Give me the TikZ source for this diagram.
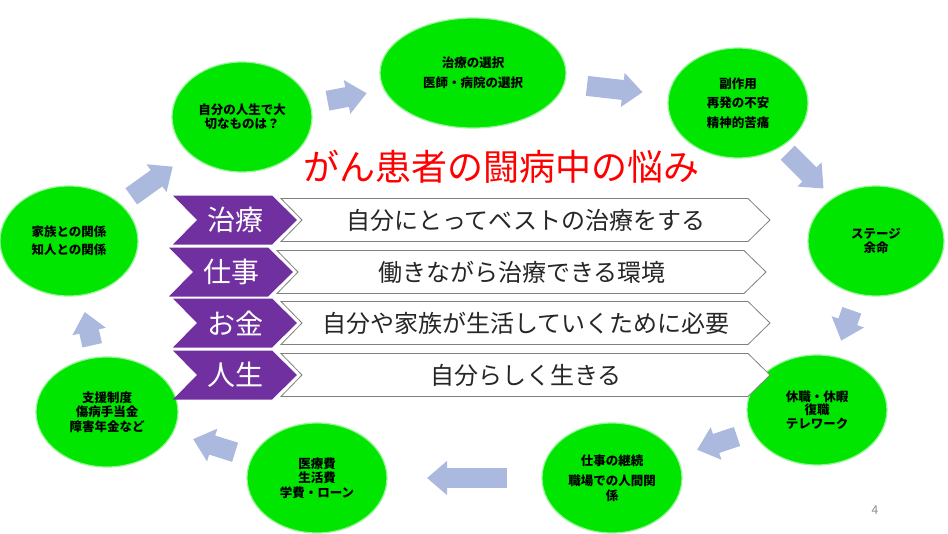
\documentclass[tikz,border=0pt]{standalone}
\usepackage{fontspec}
\setmainfont{Noto Sans CJK JP}
\usetikzlibrary{arrows.meta,calc,shapes.geometric}
\definecolor{bubblegreen}{RGB}{0,230,0}
\definecolor{bubblerim}{RGB}{150,245,150}
\definecolor{flowblue}{RGB}{170,185,221}
\definecolor{tagpurple}{RGB}{112,48,160}
\tikzstyle{bubble}=[ellipse,fill=bubblegreen,draw=bubblerim,line width=1.2pt,minimum height=110pt,inner sep=0pt,align=center,font=\bfseries\fontsize{12.5}{14.5}\selectfont]
\tikzstyle{flow} = [draw=flowblue,line width=20pt,-{Triangle[length=20pt,width=33pt]}]
\tikzstyle{tag} = [fill=tagpurple]
\tikzstyle{band} = [fill=white,draw=black!50,line width=0.8pt]
\tikzstyle{keyword} = [text=white,font=\fontsize{28}{30}\selectfont]
\tikzstyle{saying} = [text=black!85,font=\fontsize{24}{26}\selectfont]

\begin{document}
\begin{tikzpicture}[x=1pt,y=-1pt]
				\useasboundingbox (0,0) rectangle (948,533);

				% First we draw the worries as green bubbles
				\foreach \pos/\name/\w/\txt in {{(242,117)/n1/140pt/{自分の人生で大\\切なものは？}},
										{(473,73)/n2/186pt/{治療の選択\\[6pt]医師・病院の選択}},
										{(738,103)/n3/140pt/{副作用\\[5pt]再発の不安\\[5pt]精神的苦痛}},
										{(876,241)/n4/136pt/{ステージ\\余命}},
										{(817,410)/n5/140pt/{休職・休暇\\[-1pt]復職\\[-1pt]テレワーク}},
										{(612,478)/n6/140pt/{仕事の継続\\[5.5pt]職場での人間関\\係}},
										{(317,478)/n7/140pt/{医療費\\生活費\\学費・ローン}},
										{(107,412)/n8/142pt/{支援制度\\傷病手当金\\障害年金など}},
										{(69,241)/n9/138pt/{家族との関係\\[3.5pt]知人との関係}}}
				\node[bubble,minimum width=\w] (\name) at \pos {\txt};

				% Block arrows from one bubble to the next
				\foreach \source/ \dest /\a/\b in {n9/n1/.36/.60, n1/n2/.37/.54, n2/n3/.43/.64,
										n3/n4/.36/.62, n4/n5/.41/.59, n5/n6/.39/.585,
										n6/n7/.356/.627, n7/n8/.39/.59, n8/n9/.39/.585}
				\path[flow] ($(\source)!\a!(\dest)$) -- ($(\source)!\b!(\dest)$);

				% Purple keywords and white bands
				\foreach \yc/\dx/\i/\key/\say in {220/0/1/治療/自分にとってベストの治療をする,
										272/-4/2/仕事/働きながら治療できる環境,
										323/0/3/お金/自分や家族が生活していくために必要,
										375/0/4/人生/自分らしく生きる}
				{
				\path[tag] (173+\dx,\yc-24.5) -- ++(99,0) -- ++(25,24.5) -- ++(-25,24.5) -- ++(-99,0) -- ++(24,-24.5) -- cycle;
				\path[band] (281+\dx,\yc-21.5) -- ++(467,0) -- ++(22,21.5) -- ++(-22,21.5) -- ++(-467,0) -- ++(21,-21.5) -- cycle;
				\node[keyword] (key\i) at (235+\dx,\yc) {\key};
				\node[saying] (say\i) at (526+\dx,\yc) {\say};
				}

				\node[text=red,font=\fontsize{36}{40}\selectfont] (title) at (501,167) {がん患者の闘病中の悩み};
				\node[text=black!45,font=\fontsize{12}{14}\selectfont] (page) at (875,510) {4};

			\end{tikzpicture}
\end{document}
